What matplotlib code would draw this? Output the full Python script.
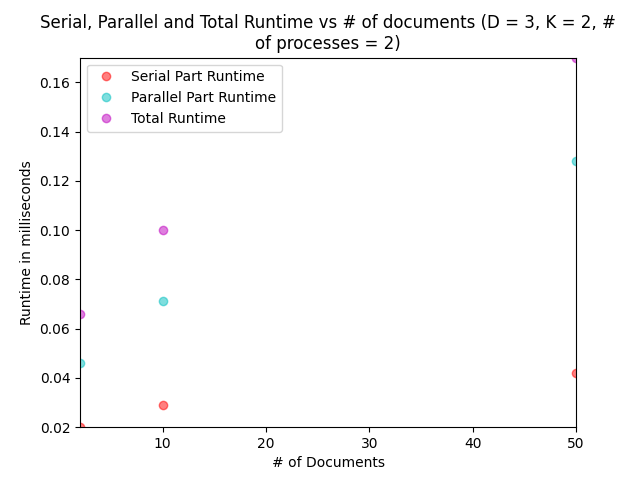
import matplotlib
matplotlib.use('Agg')
import matplotlib.pyplot as plt

#---DATA---
num_docs = [2, 10, 50]
serial_runtime = [0.020, 0.029, 0.042]
parallel_runtime = [0.046, 0.0714, 0.128]
total_runtime = [0.066, 0.100, 0.170]

#---PLOT---
fig, ax = plt.subplots(figsize=(6.4, 4.8), dpi=100)
plt.plot(num_docs, serial_runtime, 'ro', alpha=0.5, label='Serial Part Runtime')
plt.plot(num_docs, parallel_runtime, 'co', alpha=0.5, label='Parallel Part Runtime')
plt.plot(num_docs, total_runtime, 'mo', alpha=0.5, label='Total Runtime')

#---FORMATTING---
plt.axis([min(num_docs), max(num_docs), min(serial_runtime), max(total_runtime)])
plt.title('Serial, Parallel and Total Runtime vs # of documents (D = 3, K = 2, #\nof processes = 2)')
plt.xlabel('# of Documents')
plt.ylabel('Runtime in milliseconds')
plt.legend(loc='upper left')

plt.savefig('out.png', dpi=100)
